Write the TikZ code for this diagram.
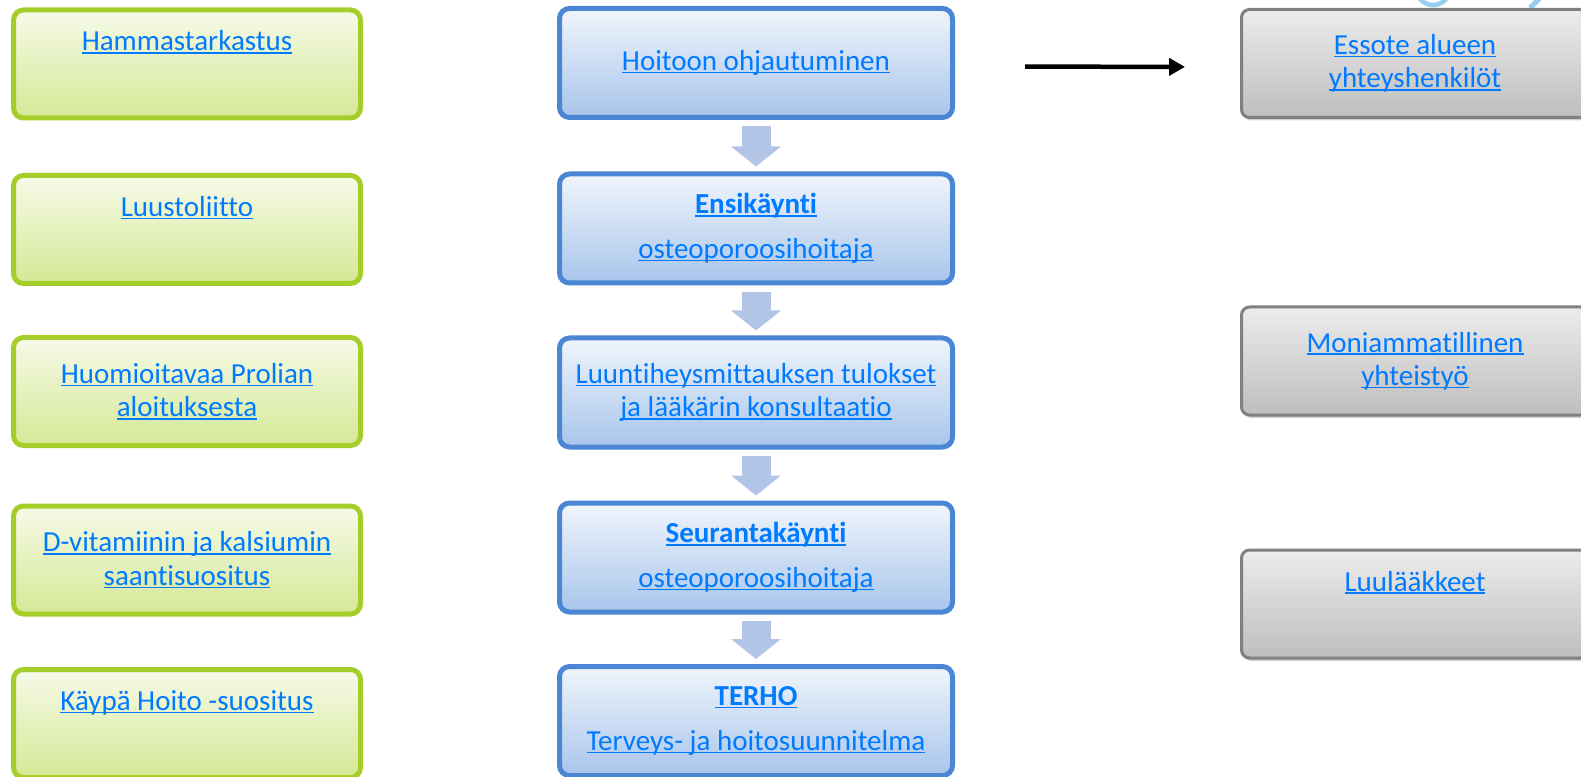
\documentclass[tikz,border=0pt]{standalone}
\usepackage{fontspec}
\setmainfont{Carlito}[Ligatures={NoCommon}]
\usetikzlibrary{arrows.meta,shadows}
\definecolor{lnkblue}{RGB}{0,122,255}
\definecolor{grnline}{RGB}{166,206,42}
\definecolor{grntop}{RGB}{246,250,232}
\definecolor{grnbot}{RGB}{213,232,150}
\definecolor{bluline}{RGB}{74,134,212}
\definecolor{blutop}{RGB}{240,245,252}
\definecolor{blubot}{RGB}{168,197,235}
\definecolor{arrblue}{RGB}{178,197,230}
\definecolor{gryline}{RGB}{128,128,128}
\definecolor{grytop}{RGB}{236,236,236}
\definecolor{grybot}{RGB}{190,190,190}
\definecolor{logoblue}{RGB}{150,205,240}
\newcommand{\lnk}[1]{{\color{lnkblue}\setbox0\hbox{#1}\rlap{\rule[-1.6pt]{\wd0}{0.8pt}}\box0}}

\begin{document}
\begin{tikzpicture}[
  font=\fontsize{16.5}{19}\selectfont,
  greenbox/.style={draw=grnline, line width=0.1cm, rounded corners=0.2cm,
    top color=grntop, bottom color=grnbot, align=center,
    minimum width=6.94cm, minimum height=2.16cm},
  bluebox/.style={draw=bluline, line width=0.1cm, rounded corners=0.2cm,
    top color=blutop, bottom color=blubot, align=center,
    minimum width=7.86cm, minimum height=2.18cm},
  greybox/.style={draw=gryline, line width=0.06cm, rounded corners=0.16cm,
    top color=grytop, bottom color=grybot, align=center,
    minimum width=6.94cm, minimum height=2.16cm,
    drop shadow={shadow xshift=0.03cm, shadow yshift=-0.06cm, opacity=0.35}},
  toptext/.style={text height=0.42cm, text depth=0.94cm},
  flow/.style={draw=arrblue, line width=0.58cm,
    -{Triangle[width=0.98cm,length=0.4cm]}, shorten <=0.13cm, shorten >=0.1cm}]
%  \draw[gray] (0,0) rectangle (31.62,-15.54);
  \clip (0,0) rectangle (31.62,-15.54);
  \draw[logoblue, line width=0.09cm] (28.66,0.24) circle (0.34);
  \draw[logoblue, line width=0.1cm] (30.86,0.1) -- (30.6,-0.16);

  \node[greenbox,toptext] (hammas) at (3.74,-1.28) {\lnk{Hammastarkastus}};
  \node[greenbox,toptext] (luusto) at (3.74,-4.59) {\lnk{Luustoliitto}};
  \node[greenbox] (prolia) at (3.74,-7.83) {\lnk{Huomioitavaa Prolian}\\\lnk{aloituksesta}};
  \node[greenbox] (dvit) at (3.74,-11.20) {\lnk{D-vitamiinin ja kalsiumin}\\\lnk{saantisuositus}};
  \node[greenbox,toptext] (kaypa) at (3.74,-14.47) {\lnk{Käypä Hoito -suositus}};

  \node[bluebox] (ohjaus) at (15.12,-1.26) {\lnk{Hoitoon ohjautuminen}};
  \node[bluebox] (ensi) at (15.12,-4.57) {\lnk{\bfseries Ensikäynti}\\[6.5pt]\lnk{osteoporoosihoitaja}};
  \node[bluebox] (mittaus) at (15.12,-7.85) {\lnk{Luuntiheysmittauksen tulokset}\\\lnk{ja lääkärin konsultaatio}};
  \node[bluebox] (seuranta) at (15.12,-11.15) {\lnk{\bfseries Seurantakäynti}\\[6.5pt]\lnk{osteoporoosihoitaja}};
  \node[bluebox] (terho) at (15.12,-14.42) {\lnk{\bfseries TERHO}\\[6.5pt]\lnk{Terveys- ja hoitosuunnitelma}};

  \node[greybox] (essote) at (28.3,-1.27) {\lnk{Essote alueen}\\\lnk{yhteyshenkilöt}};
  \node[greybox] (moni) at (28.3,-7.22) {\lnk{Moniammatillinen}\\\lnk{yhteistyö}};
  \node[greybox,toptext] (laakkeet) at (28.3,-12.08) {\lnk{Luulääkkeet}};

  \draw[flow] (ohjaus) -- (ensi);
  \draw[flow] (ensi) -- (mittaus);
  \draw[flow] (mittaus) -- (seuranta);
  \draw[flow] (seuranta) -- (terho);
  \draw[line width=0.09cm, -{Triangle[width=0.34cm,length=0.32cm]},
    shorten <=1.4cm, shorten >=1.1cm]
    ([yshift=-0.07cm]ohjaus.east) -- ([yshift=-0.07cm]essote.west);
\end{tikzpicture}
\end{document}
